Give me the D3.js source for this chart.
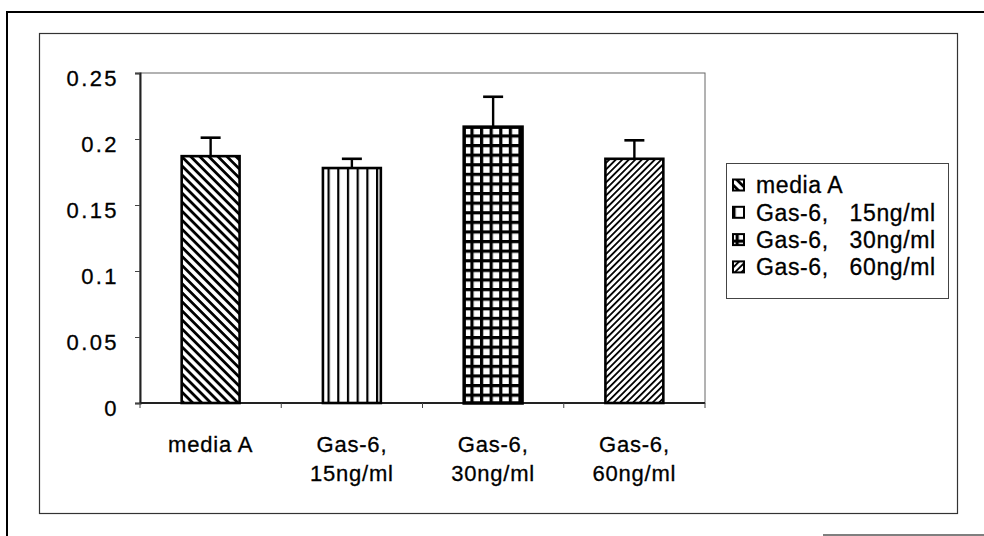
<!DOCTYPE html>
<html>
<head>
<meta charset="utf-8">
<script src="https://cdn.jsdelivr.net/npm/d3@7"></script>
<style>
  html, body { margin: 0; padding: 0; background: #fff; }
  svg { display: block; font-family: "Liberation Sans", Arial, Helvetica, sans-serif; }
  text { white-space: pre; }
</style>
</head>
<body>
<div id="chart"></div>
<script>
// data
const categories = ["media A", "Gas-6, 15ng/ml", "Gas-6, 30ng/ml", "Gas-6, 60ng/ml"];
const axisLabels = [["media A"], ["Gas-6,", "15ng/ml"], ["Gas-6,", "30ng/ml"], ["Gas-6,", "60ng/ml"]];
const legendLabels = ["media A", "Gas-6,   15ng/ml", "Gas-6,   30ng/ml", "Gas-6,   60ng/ml"];
const means = [0.187, 0.178, 0.209, 0.185];
const errors = [0.014, 0.007, 0.023, 0.014];
const yTicks = [0, 0.05, 0.1, 0.15, 0.2, 0.25];
const patternIds = ["hatchBack", "vlines", "grid", "hatchFwd"];

const width = 984, height = 536;
const plot = { left: 140, right: 705, top: 73, bottom: 403 };

const svg = d3.select("#chart").append("svg")
    .attr("width", width)
    .attr("height", height);

const defs = svg.append("defs");

// "\" diagonal hatch
const p1 = defs.append("pattern")
    .attr("id", "hatchBack")
    .attr("patternUnits", "userSpaceOnUse")
    .attr("width", 6.4).attr("height", 6.4)
    .attr("patternTransform", "rotate(45)");
p1.append("rect").attr("width", 6.4).attr("height", 6.4).attr("fill", "#fff");
p1.append("rect").attr("width", 6.4).attr("height", 2.8).attr("fill", "#000");

// vertical lines
const p2 = defs.append("pattern")
    .attr("id", "vlines")
    .attr("patternUnits", "userSpaceOnUse")
    .attr("width", 9.7).attr("height", 10)
    .attr("x", 182);
p2.append("rect").attr("width", 9.7).attr("height", 10).attr("fill", "#fff");
p2.append("rect").attr("width", 2.2).attr("height", 10).attr("fill", "#000");

// square grid
const p3 = defs.append("pattern")
    .attr("id", "grid")
    .attr("patternUnits", "userSpaceOnUse")
    .attr("width", 9.6).attr("height", 9.6);
p3.append("rect").attr("width", 9.6).attr("height", 9.6).attr("fill", "#000");
p3.append("rect").attr("x", 3.2).attr("y", 3.2).attr("width", 6.4).attr("height", 6.4).attr("fill", "#fff");

// "/" diagonal hatch, thinner
const p4 = defs.append("pattern")
    .attr("id", "hatchFwd")
    .attr("patternUnits", "userSpaceOnUse")
    .attr("width", 4.6).attr("height", 4.6)
    .attr("patternTransform", "rotate(-45)");
p4.append("rect").attr("width", 4.6).attr("height", 4.6).attr("fill", "#fff");
p4.append("rect").attr("width", 4.6).attr("height", 1.8).attr("fill", "#000");

// page frame (scanned document edges)
svg.append("path")
    .attr("d", "M7,536 V12 H984")
    .attr("fill", "none").attr("stroke", "#000").attr("stroke-width", 2);
svg.append("path")
    .attr("d", "M823,535 H984")
    .attr("fill", "none").attr("stroke", "#555").attr("stroke-width", 1.5);

// chart area box
svg.append("rect")
    .attr("x", 39.5).attr("y", 33.5)
    .attr("width", 918).attr("height", 480)
    .attr("fill", "none").attr("stroke", "#333").attr("stroke-width", 1.2);

const x = d3.scaleBand()
    .domain(categories)
    .range([plot.left, plot.right])
    .paddingInner(0.59)
    .paddingOuter(0.295);

const y = d3.scaleLinear()
    .domain([0, 0.25])
    .range([plot.bottom, plot.top]);

// plot area outline
svg.append("rect")
    .attr("x", plot.left).attr("y", plot.top)
    .attr("width", plot.right - plot.left).attr("height", plot.bottom - plot.top)
    .attr("fill", "none").attr("stroke", "#666").attr("stroke-width", 1);

// y axis
const yAxis = svg.append("g")
    .attr("transform", "translate(" + plot.left + ",0)")
    .call(d3.axisLeft(y).tickValues(yTicks).tickSize(5).tickPadding(16)
      .tickFormat(d => d3.format("")(+d.toFixed(2))));
yAxis.select(".domain").attr("stroke", "#222").attr("stroke-width", 2);
yAxis.selectAll(".tick line").attr("stroke", "#444");
yAxis.selectAll(".tick text")
    .attr("font-size", 22)
    .attr("letter-spacing", 2.4)
    .attr("fill", "#000")
    .attr("stroke", "#000").attr("stroke-width", 0.3)
    .attr("dy", "0.55em");

// x axis: ticks on category boundaries
const boundaries = d3.range(categories.length + 1).map(i => plot.left + i * x.step());
svg.append("line")
    .attr("x1", plot.left).attr("x2", plot.right)
    .attr("y1", plot.bottom).attr("y2", plot.bottom)
    .attr("stroke", "#222").attr("stroke-width", 2);
svg.selectAll(".xtick")
    .data(boundaries)
  .enter().append("line")
    .attr("class", "xtick")
    .attr("x1", d => d).attr("x2", d => d)
    .attr("y1", plot.bottom).attr("y2", plot.bottom + 5)
    .attr("stroke", "#444");

const xl = svg.selectAll(".xlabel")
    .data(axisLabels)
  .enter().append("text")
    .attr("class", "xlabel")
    .attr("text-anchor", "middle")
    .attr("font-size", 22)
    .attr("letter-spacing", 0.8)
    .attr("fill", "#000")
    .attr("stroke", "#000").attr("stroke-width", 0.3)
    .attr("transform", (d, i) => "translate(" + (x(categories[i]) + x.bandwidth() / 2) + ",452)");
xl.selectAll("tspan")
    .data(d => d)
  .enter().append("tspan")
    .attr("x", 0)
    .attr("y", (d, i) => i * 29)
    .text(d => d);

// bars
svg.selectAll(".bar")
    .data(means)
  .enter().append("rect")
    .attr("class", "bar")
    .attr("x", (d, i) => x(categories[i]))
    .attr("y", d => y(d))
    .attr("width", x.bandwidth())
    .attr("height", d => y(0) - y(d))
    .attr("fill", (d, i) => "url(#" + patternIds[i] + ")")
    .attr("stroke", "#000")
    .attr("stroke-width", (d, i) => i === 2 ? 3.5 : 2.6);

// error bars (upper only)
const eb = svg.selectAll(".err")
    .data(means)
  .enter().append("g")
    .attr("class", "err")
    .attr("transform", (d, i) => "translate(" + (x(categories[i]) + x.bandwidth() / 2) + ",0)");
eb.append("line")
    .attr("x1", 0).attr("x2", 0)
    .attr("y1", d => y(d))
    .attr("y2", (d, i) => y(d + errors[i]))
    .attr("stroke", "#000").attr("stroke-width", 2.4);
eb.append("line")
    .attr("x1", -10).attr("x2", 10)
    .attr("y1", (d, i) => y(d + errors[i]))
    .attr("y2", (d, i) => y(d + errors[i]))
    .attr("stroke", "#000").attr("stroke-width", 2.6);

// legend
const legend = svg.append("g").attr("transform", "translate(726,163)");
legend.append("rect")
    .attr("x", 0.5).attr("y", 0.5)
    .attr("width", 222).attr("height", 135)
    .attr("fill", "#fff").attr("stroke", "#444").attr("stroke-width", 1);

const rows = legend.selectAll(".row")
    .data(legendLabels)
  .enter().append("g")
    .attr("class", "row")
    .attr("transform", (d, i) => "translate(0," + (22 + i * 27.3) + ")");
rows.append("rect")
    .attr("x", 7).attr("y", -5.5)
    .attr("width", 11).attr("height", 11)
    .attr("fill", (d, i) => "url(#" + patternIds[i] + ")")
    .attr("stroke", "#000").attr("stroke-width", 2);
rows.append("text")
    .attr("x", 30)
    .attr("dy", "0.36em")
    .attr("font-size", 23)
    .attr("letter-spacing", 0.6)
    .attr("fill", "#000")
    .attr("stroke", "#000").attr("stroke-width", 0.3)
    .text(d => d);
</script>
</body>
</html>
